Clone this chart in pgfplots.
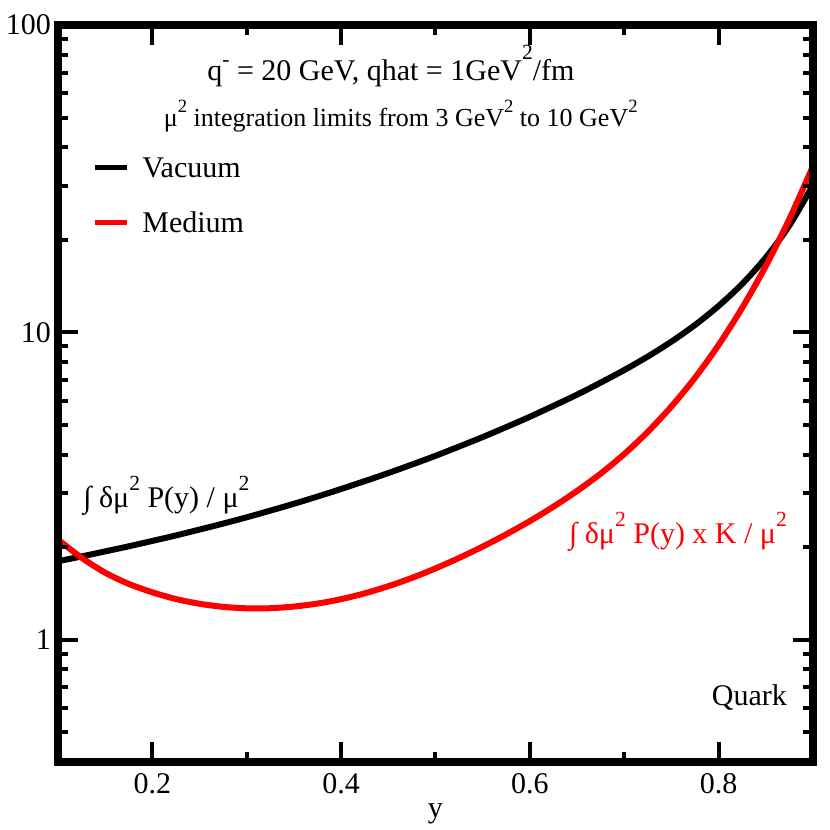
\documentclass[border=0pt]{standalone}
\usepackage{fontspec}
\setmainfont{Liberation Serif}
\usepackage{pgfplots}
\usepackage{pgfplotstable}
\pgfplotsset{compat=1.18}
\pgfplotstableread{
x y
0.100 1.800
0.125 1.866
0.150 1.938
0.175 2.013
0.200 2.096
0.225 2.184
0.250 2.282
0.275 2.387
0.300 2.502
0.325 2.630
0.350 2.769
0.375 2.923
0.400 3.093
0.425 3.280
0.450 3.486
0.475 3.714
0.500 3.966
0.525 4.250
0.550 4.563
0.575 4.918
0.600 5.313
0.625 5.766
0.650 6.271
0.675 6.862
0.700 7.540
0.725 8.345
0.750 9.331
0.775 10.57
0.800 12.19
0.825 14.38
0.850 17.51
0.875 22.27
0.900 30.15
}\vacuum
\pgfplotstableread{
x y
0.100 2.118
0.125 1.848
0.150 1.652
0.175 1.519
0.200 1.426
0.225 1.356
0.250 1.309
0.275 1.279
0.300 1.265
0.325 1.266
0.350 1.282
0.375 1.311
0.400 1.355
0.425 1.415
0.450 1.493
0.475 1.589
0.500 1.706
0.525 1.845
0.550 2.009
0.575 2.202
0.600 2.432
0.625 2.709
0.650 3.048
0.675 3.470
0.700 4.018
0.725 4.748
0.750 5.741
0.775 7.119
0.800 9.099
0.825 12.02
0.850 16.44
0.875 23.39
0.900 34.75
}\medium
\newcommand{\fA}{\fontsize{15pt}{18pt}\selectfont}
\newcommand{\fB}{\fontsize{13pt}{16pt}\selectfont}
\newcommand{\sps}[2][0.55em]{\raisebox{#1}{\scalebox{0.72}{#2}}}
\begin{document}
\begin{tikzpicture}
\begin{axis}[
  scale only axis,
  width=377.5pt, height=368.5pt,
  xmin=0.1, xmax=0.9,
  ymode=log, ymin=0.4, ymax=100,
  axis on top,
  axis line style={line width=4pt, line cap=rect},
  major tick length=10pt, minor tick length=5pt,
  every tick/.style={line width=2pt, black},
  xtick={0.2,0.4,0.6,0.8},
  xticklabels={0.2,0.4,0.6,0.8},
  minor xtick={0.3,0.5,0.7},
  ytick={1,10,100},
  yticklabels={1,10,100},
  minor ytick={0.4,0.5,0.6,0.7,0.8,0.9,2,3,4,5,6,7,8,9,20,30,40,50,60,70,80,90},
  tick label style={font=\fA},
  xticklabel style={anchor=base, yshift=-15.5pt},
  xlabel={y},
  xlabel style={at={(axis description cs:0.5,0)}, anchor=base, yshift=-27.5pt, font=\fA},
  legend cell align=left,
  legend image code/.code={\draw[#1, line width=2.5pt] (0pt,0pt) -- (16pt,0pt);},
  legend style={draw=none, fill=none, at={(rel axis cs:0.045,0.8237)}, anchor=north west,
    font=\fA, inner sep=0pt, row sep=15.5pt, column sep=6.5pt,
    nodes={inner sep=0pt, text height=11pt, text depth=1pt}},
]
\addplot[black, line width=3pt, smooth] table {\vacuum};
\addlegendentry{Vacuum}
\addplot[red, line width=3pt, smooth] table {\medium};
\addlegendentry{Medium}
\node[anchor=base, inner sep=0pt, font=\fA] at (rel axis cs:0.441,0.925)
  {q\sps[0.45em]{-} = 20 GeV, qhat = 1GeV\sps[0.7em]{2}/fm};
\node[anchor=base, inner sep=0pt, font=\fB] at (rel axis cs:0.454,0.862)
  {μ\sps{2} integration limits from 3 GeV\sps{2} to 10 GeV\sps{2}};
\node[anchor=base west, inner sep=0pt, font=\fA] at (rel axis cs:0.033,0.346)
  {∫ δμ\sps{2} P(y) / μ\sps{2}};
\node[anchor=base east, inner sep=0pt, font=\fA, text=red] at (rel axis cs:0.966,0.297)
  {∫ δμ\sps{2} P(y) x K / μ\sps{2}};
\node[anchor=base east, inner sep=0pt, font=\fA] at (rel axis cs:0.966,0.077) {Quark};
\coordinate (ll) at (rel axis cs:0,0);
\coordinate (ur) at (rel axis cs:1,1);
\end{axis}
\pgfresetboundingbox
\path[use as bounding box] ([shift={(-29pt,-34pt)}]ll) rectangle ([shift={(8.5pt,12.5pt)}]ur);
\end{tikzpicture}
\end{document}
